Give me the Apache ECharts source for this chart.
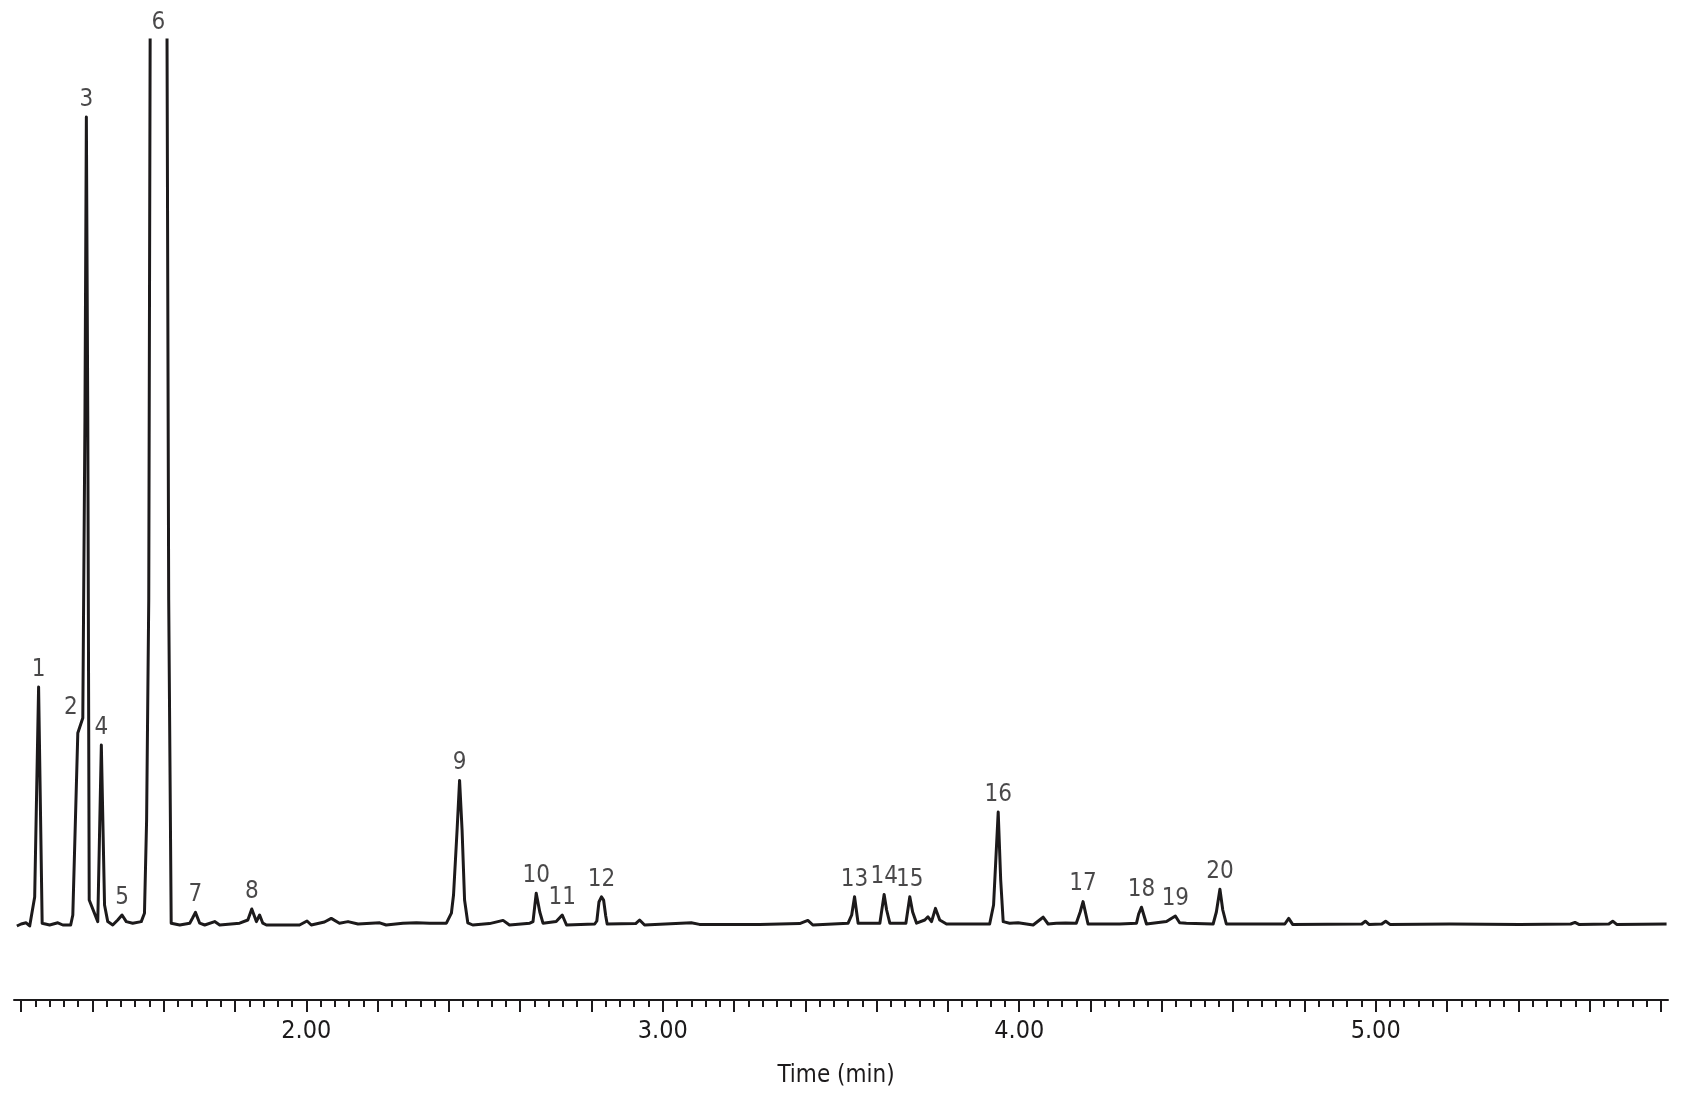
<!DOCTYPE html>
<html>
<head>
<meta charset="utf-8">
<script src="https://cdn.jsdelivr.net/npm/echarts@6/dist/echarts.min.js"></script>
<style>
html,body{margin:0;padding:0;background:#fff;}
#chart{width:1688px;height:1101px;}
</style>
</head>
<body>
<div id="chart"></div>
<script>
// Retention time (min) and detector signal (arbitrary units)
var timeMin = [
1.188,1.200,1.214,1.224,1.228,1.238,1.249,1.259,1.280,1.303,1.317,1.339,1.345,1.359,1.373,1.379,1.383,1.387,1.391,
1.415,1.425,1.434,1.443,1.457,1.471,1.483,1.495,1.513,1.537,1.546,1.552,1.558,1.563,1.586,1.608,1.614,1.621,
1.645,1.673,1.681,1.689,1.701,1.715,1.743,1.757,1.813,1.836,1.847,1.860,1.869,1.878,1.888,1.981,2.002,2.014,
2.051,2.070,2.093,2.117,2.145,2.206,2.224,2.271,2.309,2.346,2.393,2.407,2.413,2.423,2.430,2.437,2.444,2.453,2.467,
2.514,2.552,2.570,2.627,2.636,2.645,2.655,2.664,2.701,2.718,2.730,2.809,2.815,2.821,2.828,2.834,2.840,2.844,
2.924,2.935,2.949,3.080,3.103,3.272,3.384,3.407,3.421,3.520,3.530,3.538,3.548,3.609,3.621,3.628,3.637,
3.682,3.693,3.701,3.712,3.735,3.744,3.754,3.765,3.777,3.796,3.917,3.928,3.941,3.948,3.955,3.973,3.997,
4.039,4.067,4.081,4.104,4.130,4.160,4.171,4.179,4.193,4.282,4.329,4.335,4.343,4.357,4.413,4.438,4.450,4.469,
4.544,4.553,4.563,4.571,4.581,4.745,4.756,4.767,4.961,4.971,4.981,5.017,5.028,5.040,5.208,5.404,
5.547,5.559,5.570,5.654,5.665,5.676,5.816
];
var signal = [
-0.5,0,0.3,-0.5,-0.25,6.75,59.25,0.2,-0.25,0.3,-0.25,-0.25,2.25,47.75,51.5,126,201.75,126,6,
0.6,44.75,4.75,0.6,-0.25,1,2.25,0.6,0.2,0.6,2.7,26,81,260,290,260,81,0.2,
-0.25,0.2,1.5,2.9,0.2,-0.25,0.6,-0.25,0.2,1,3.75,0.6,2.25,0.2,-0.25,-0.25,0.75,-0.25,
0.5,1.4,0.2,0.6,0,0.3,-0.25,0.2,0.3,0.2,0.2,2.7,7.25,23.5,35.9,23.5,6,0.3,-0.25,
0.1,0.9,-0.25,0.2,0.6,7.7,3,0.2,0.6,2.25,-0.25,0,0.75,5.5,6.8,6,2,0,
0.1,1,-0.25,0.3,-0.1,-0.1,0.1,0.9,-0.25,0.2,2.25,6.8,0.2,0.2,7.4,3.5,0.2,
0.2,6.8,3,0.2,1,1.8,0.6,3.9,1,0,0,4.75,28,11,0.6,0.2,0.3,
-0.25,1.7,0,0.2,0.25,0.2,3,5.6,0,0,0.2,2.5,4.2,0,0.6,2,0.3,0.2,
0,3,8.7,3.5,0,0,1.4,-0.1,0,0.7,-0.1,0,0.7,-0.1,0,-0.1,
0,0.4,-0.1,0,0.7,-0.1,0
];

// Peak numbering and apex positions
var peakNames = ['1','2','3','4','5','6','7','8','9','10','11','12','13','14','15','16','17','18','19','20'];
var peakTimes = [1.249,1.359,1.383,1.425,1.483,1.585,1.689,1.847,2.430,2.645,2.718,2.828,3.538,3.621,3.693,3.941,4.179,4.343,4.438,4.563];
var peakHeights = [59.25,47.75,201.75,44.75,2.25,221,2.9,3.75,35.9,7.7,2.25,6.8,6.8,7.4,6.8,28,5.6,4.2,2,8.7];

// Axis ticks
var majorTicks = [1.2,1.4,1.6,1.8,2.0,2.2,2.4,2.6,2.8,3.0,3.2,3.4,3.6,3.8,4.0,4.2,4.4,4.6,4.8,5.0,5.2,5.4,5.6,5.8];
var minorTicks = [
1.24,1.28,1.32,1.36,1.44,1.48,1.52,1.56,1.64,1.68,1.72,1.76,1.84,1.88,1.92,1.96,
2.04,2.08,2.12,2.16,2.24,2.28,2.32,2.36,2.44,2.48,2.52,2.56,2.64,2.68,2.72,2.76,2.84,2.88,2.92,2.96,
3.04,3.08,3.12,3.16,3.24,3.28,3.32,3.36,3.44,3.48,3.52,3.56,3.64,3.68,3.72,3.76,3.84,3.88,3.92,3.96,
4.04,4.08,4.12,4.16,4.24,4.28,4.32,4.36,4.44,4.48,4.52,4.56,4.64,4.68,4.72,4.76,4.84,4.88,4.92,4.96,
5.04,5.08,5.12,5.16,5.24,5.28,5.32,5.36,5.44,5.48,5.52,5.56,5.64,5.68,5.72,5.76
];
var labelTicks = [2.0,3.0,4.0,5.0];
var axisTitle = 'Time (min)';

var INK = '#1c1a1b';
var FONT = "'Liberation Sans Narrow','Arial Narrow','DejaVu Sans Condensed',sans-serif";

var lineData = timeMin.map(function(t,i){return [t, signal[i]];});
var labelOffsets = {'2':[-7,-8]};
var labelData = peakNames.map(function(n,i){
  var item = {name:n, value:[peakTimes[i], peakHeights[i]]};
  if (labelOffsets[n]) item.label = {offset: labelOffsets[n]};
  return item;
});

var chart = echarts.init(document.getElementById('chart'), null, {renderer:'canvas'});
chart.setOption({
  animation:false,
  backgroundColor:'#fff',
  grid:{left:14, right:20, top:40, bottom:101, containLabel:false},
  xAxis:[{
    type:'value', position:'bottom', min:1.18, max:5.82,
    axisLine:{show:true, onZero:false, lineStyle:{color:INK, width:2}},
    axisTick:{show:true, customValues:majorTicks, length:12, lineStyle:{color:INK, width:2}},
    axisLabel:{show:true, customValues:labelTicks, margin:19, fontSize:25, color:INK, fontFamily:FONT,
      formatter:function(v){return v.toFixed(2);}},
    splitLine:{show:false},
    name:axisTitle, nameLocation:'middle', nameGap:64,
    nameTextStyle:{fontSize:24, color:INK, fontFamily:FONT, padding:[0,10,0,0]}
  },{
    type:'value', position:'bottom', min:1.18, max:5.82,
    axisLine:{show:false, onZero:false},
    axisTick:{show:true, customValues:minorTicks, length:7, lineStyle:{color:INK, width:2}},
    axisLabel:{show:false}, splitLine:{show:false}
  }],
  yAxis:{type:'value', min:-19, max:221, show:false},
  series:[{
    type:'line', data:lineData, xAxisIndex:0, showSymbol:false, symbol:'none',
    clip:true, smooth:false,
    lineStyle:{color:INK, width:3, join:'round'}
  },{
    type:'scatter', data:labelData, xAxisIndex:0, symbolSize:1, clip:false, silent:true,
    itemStyle:{color:'rgba(0,0,0,0)'},
    label:{show:true, position:'top', distance:5, formatter:'{b}', fontSize:24, color:INK, fontFamily:FONT}
  }]
});
</script>
</body>
</html>
